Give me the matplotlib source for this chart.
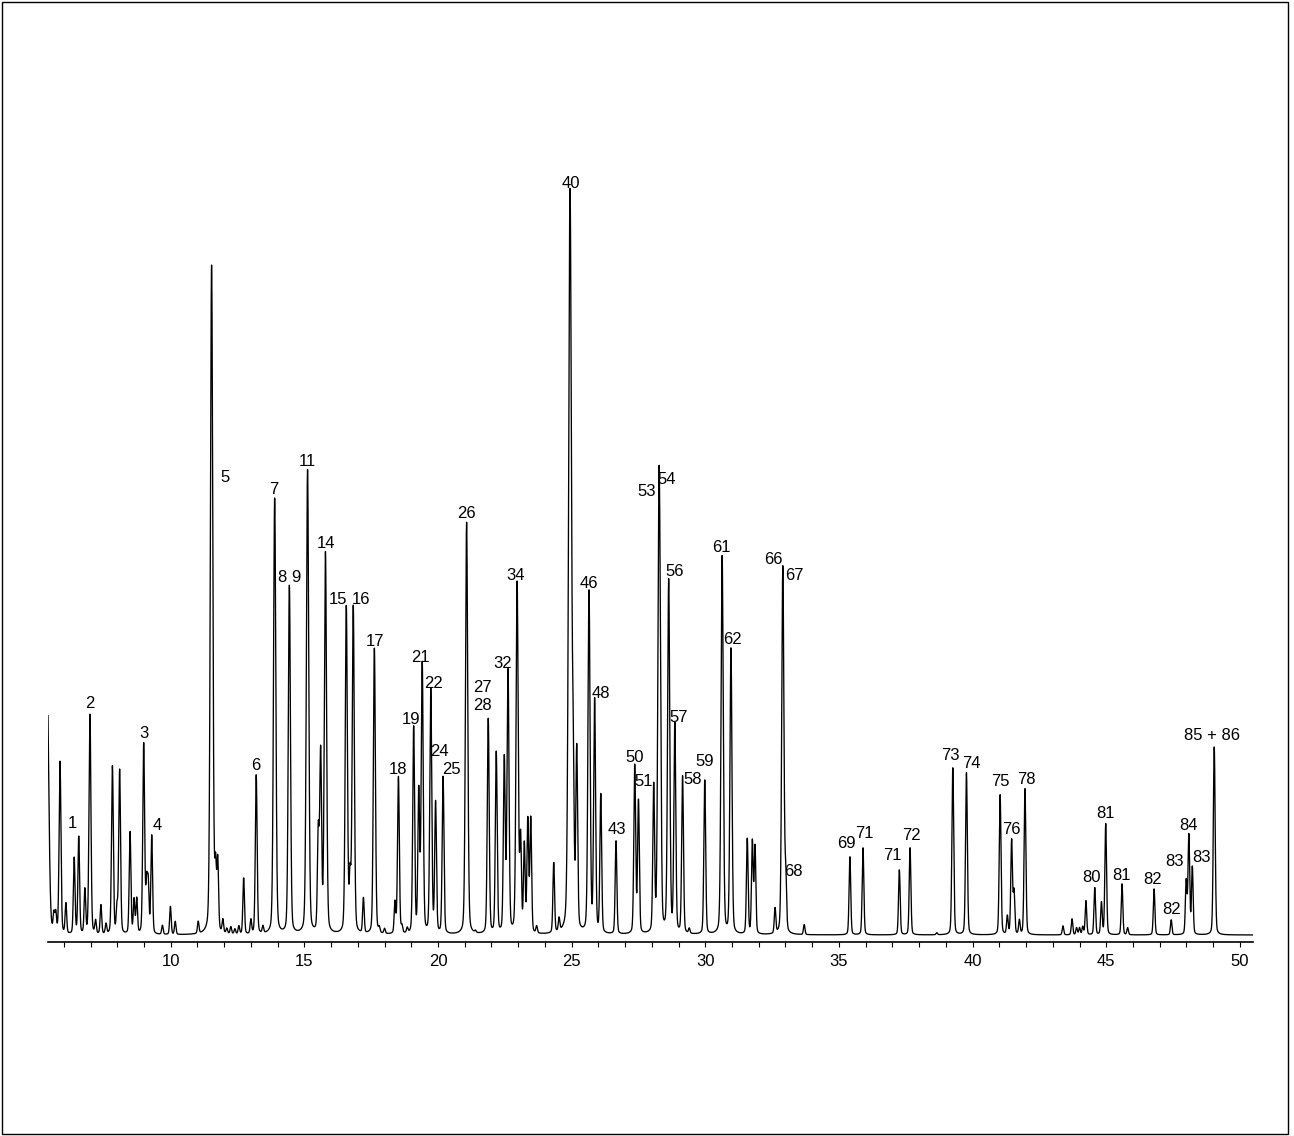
import numpy as np
import matplotlib
matplotlib.use("Agg")
import matplotlib.pyplot as plt
from matplotlib.patches import Rectangle

plt.rcParams["font.family"] = ["Liberation Sans", "DejaVu Sans"]

# ── peak table (retention time in min, apex height) ──
peak_rt = [
    5.38, 5.63, 5.70, 5.86, 6.08, 6.39, 6.56, 6.79, 6.98, 7.19, 7.39, 7.58,
    7.82, 7.99, 8.09, 8.48, 8.63, 8.73, 8.99, 9.10, 9.16, 9.29, 9.69, 9.99,
    10.17, 11.03, 11.53, 11.68, 11.76, 11.95, 12.10, 12.25, 12.40, 12.55,
    12.73, 13.00, 13.20, 13.45, 13.89, 14.44, 15.12, 15.52, 15.61, 15.79,
    16.57, 16.71, 16.83, 17.21, 17.62, 17.80, 18.00, 18.39, 18.52, 18.65,
    18.85, 19.09, 19.28, 19.41, 19.73, 19.91, 20.19, 21.07, 21.40, 21.88,
    22.18, 22.48, 22.62, 22.96, 23.09, 23.23, 23.36, 23.47, 23.69, 24.33,
    24.53, 24.94, 25.06, 25.19, 25.65, 25.86, 26.09, 26.66, 27.36, 27.50,
    28.07, 28.27, 28.33, 28.63, 28.86, 29.15, 29.40, 29.98, 30.63, 30.96,
    31.57, 31.76, 31.86, 32.61, 32.90, 33.01, 33.70, 35.41, 35.90, 37.26,
    37.66, 38.66, 39.26, 39.77, 41.03, 41.30, 41.46, 41.55, 41.75, 41.96,
    43.38, 43.72, 43.89, 44.00, 44.12, 44.24, 44.57, 44.82, 44.98, 45.59,
    45.80, 46.79, 47.43, 47.99, 48.09, 48.22, 49.04,
]
peak_height = [
    257, 25, 26, 179, 37, 83, 104, 51, 227, 20, 36, 17,
    175, 32, 171, 109, 41, 42, 197, 55, 55, 105, 16, 35,
    20, 19, 676, 67, 76, 20, 12, 14, 12, 15,
    63, 21, 166, 14, 443, 355, 471, 105, 185, 387,
    333, 59, 333, 42, 293, 12, 12, 38, 164, 14,
    12, 213, 147, 276, 251, 137, 164, 419, 9, 222,
    188, 180, 268, 357, 99, 94, 119, 121, 14, 77,
    20, 749, 137, 185, 348, 239, 145, 100, 175, 139,
    152, 457, 92, 359, 215, 164, 12, 161, 385, 292,
    102, 99, 94, 32, 375, 59, 17, 85, 94, 72,
    94, 9, 174, 169, 147, 25, 101, 49, 21, 153,
    16, 23, 14, 14, 15, 41, 54, 39, 118, 58,
    14, 53, 22, 60, 106, 74, 195,
]

# ── peak annotations: text, retention time, label height ──
label_text = [
    "1", "2", "3", "4", "5", "6", "7", "8", "9", "11", "14", "15", "16", "17",
    "18", "19", "21", "22", "24", "25", "26", "27", "28", "32", "34", "40",
    "46", "48", "43", "50", "51", "53", "54", "56", "57", "58", "59", "61",
    "62", "66", "67", "68", "69", "71", "71", "72", "73", "74", "75", "76",
    "78", "80", "81", "81", "82", "82", "83", "84", "83", "85 + 86",
]
label_rt = [
    6.34, 6.98, 9.00, 9.49, 12.03, 13.19, 13.86, 14.16, 14.69, 15.10, 15.81,
    16.26, 17.12, 17.64, 18.50, 18.99, 19.36, 19.85, 20.07, 20.49, 21.05,
    21.65, 21.68, 22.43, 22.92, 24.98, 25.65, 26.10, 26.70, 27.34, 27.71,
    27.82, 28.57, 28.87, 29.02, 29.54, 29.99, 30.59, 31.00, 32.53, 33.32,
    33.28, 35.27, 35.94, 36.99, 37.70, 39.16, 39.94, 41.03, 41.44, 42.00,
    44.43, 44.96, 45.56, 46.75, 47.43, 47.54, 48.06, 48.55, 48.96,
]
label_y = [
    119, 239, 208, 117, 464, 177, 453, 365, 365, 480, 399, 343, 343, 301,
    173, 222, 285, 259, 190, 173, 428, 254, 236, 279, 366, 758, 359, 248,
    113, 184, 161, 451, 462, 370, 224, 163, 181, 394, 302, 383, 366, 70,
    99, 108, 86, 107, 186, 179, 160, 113, 163, 64, 129, 67, 62, 32, 80,
    116, 84, 207,
]

BASE = 7.0
T_MIN, T_MAX = 5.41, 50.49


def trace(t):
    y = np.full_like(t, BASE)
    for rt, h in zip(peak_rt, peak_height):
        amp = h - BASE
        w = 0.028 + 0.000035 * amp
        if abs(rt - 11.53) < 0.01:
            w = 0.045
        if rt < 5.5:
            w = 0.06
        d = (t - rt) / w
        g = np.exp(-0.5 * d ** 2)
        l = 1.0 / (1.0 + (d / 1.1774) ** 2)
        y += amp * (0.78 * g + 0.22 * l)
    return y


t = np.linspace(T_MIN, T_MAX, 14000)
signal = trace(t)

fig = plt.figure(figsize=(12.94, 11.36), dpi=100)
ax = fig.add_axes([48 / 1294, 194 / 1136, 1205 / 1294, 842 / 1136])

ax.plot(t, signal, color="black", linewidth=0.95)

for txt, x, y in zip(label_text, label_rt, label_y):
    ax.text(x, y, txt, ha="center", va="center", fontsize=12)

ax.set_xlim(T_MIN, T_MAX)
ax.set_ylim(0, 842)
ax.set_xticks(np.arange(10, 51, 5))
ax.set_xticks(np.arange(6, 51, 1), minor=True)
ax.tick_params(axis="x", which="both", direction="out", length=3.5,
               width=0.8, labelsize=12, pad=5)
ax.set_yticks([])
for side in ["left", "right", "top"]:
    ax.spines[side].set_visible(False)
ax.spines["bottom"].set_linewidth(1.2)

# figure frame
fig.patches.append(Rectangle((2 / 1294, 2 / 1136), 1286 / 1294, 1132 / 1136,
                             transform=fig.transFigure, fill=False,
                             edgecolor="black", linewidth=1.0))

fig.savefig("out.png", dpi=100)
